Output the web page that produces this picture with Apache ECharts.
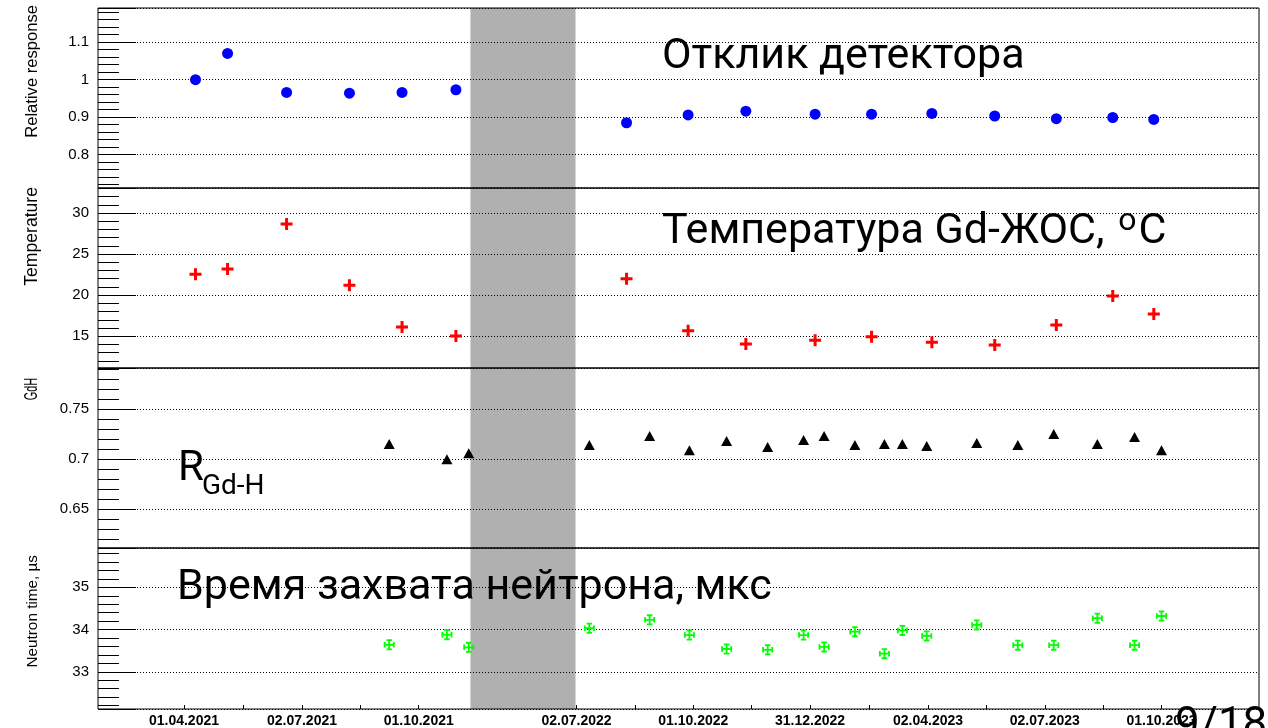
<!DOCTYPE html>
<html><head><meta charset="utf-8">
<script src="https://cdn.jsdelivr.net/npm/echarts@6/dist/echarts.min.js"></script>
<style>html,body{margin:0;padding:0;background:#fff}#c{width:1268px;height:728px}</style>
</head><body><div id="c"></div>
<script>
// ---------------- data ----------------
const tickLabels = ['01.04.2021','02.07.2021','01.10.2021','02.07.2022','01.10.2022','31.12.2022','02.04.2023','02.07.2023','01.10.2023'];

const respDates = ['2021-04-10','2021-05-05','2021-06-20','2021-08-08','2021-09-18','2021-10-30',
  '2022-08-10','2022-09-27','2022-11-11','2023-01-04','2023-02-17','2023-04-05','2023-05-24','2023-07-11','2023-08-24','2023-09-25'];
const response = [1.000,1.070,0.966,0.964,0.966,0.973,0.885,0.906,0.916,0.908,0.908,0.910,0.903,0.896,0.899,0.894];
const temperature = [22.54,23.18,28.66,21.20,16.12,15.02,22.0,15.67,14.05,14.50,14.94,14.26,13.93,16.36,19.89,17.70];

const gdDates = ['2021-09-08','2021-10-23','2021-11-09','2022-07-12','2022-08-28','2022-09-28','2022-10-27','2022-11-28','2022-12-26','2023-01-11',
  '2023-02-04','2023-02-27','2023-03-13','2023-04-01','2023-05-10','2023-06-11','2023-07-09','2023-08-12','2023-09-10','2023-10-01'];
const gdh = [0.715,0.700,0.706,0.714,0.723,0.709,0.718,0.712,0.719,0.723,0.714,0.715,0.715,0.713,0.716,0.714,0.725,0.715,0.722,0.709];
const neutronTime = [33.64,33.88,33.58,34.03,34.23,33.87,33.54,33.52,33.87,33.59,33.95,33.43,33.98,33.85,34.11,33.63,33.63,34.27,33.63,34.32];

const axisNames = ['Relative response','Temperature','GdH','Neutron time, \u00b5s'];
// --------------------------------------

const T0 = Date.UTC(2021,3,1);
const isoDay = s => { const [y,m,d] = s.split('-').map(Number); return Math.round((Date.UTC(y,m-1,d)-T0)/864e5); };
const lblDay = s => { const [d,m,y] = s.split('.').map(Number); return Math.round((Date.UTC(y,m-1,d)-T0)/864e5); };
const labelDays = tickLabels.map(lblDay);
const labelMap = {}; labelDays.forEach((v,i)=>labelMap[v]=tickLabels[i]);
const tickDays = [];
labelDays.forEach((v,i)=>{ tickDays.push(v); if(i<labelDays.length-1 && i!==2) tickDays.push((v+labelDays[i+1])/2); });

const X_MIN = -67, X_MAX = 989;
const BRK = {start: 223, end: 456, gap: 82};

const panels = [
  {top: 8, height: 180, min: 0.711, max: 1.191, split: 5},
  {top: 188, height: 180, min: 11.13, max: 33.04, split: 5},
  {top: 368, height: 180, min: 0.6114, max: 0.7909, split: 4},
  {top: 548, height: 163, min: 32.12, max: 35.93, split: 5}
];

const FONT = 'Liberation Sans';
const BIG = 'Roboto';

const grid = panels.map(p => ({left: 98, right: 9, top: p.top, height: p.height, z: 6,
  show: true, borderColor: '#000', borderWidth: 1, backgroundColor: 'transparent'}));

const xAxis = panels.map((p, i) => ({
  type: 'value', gridIndex: i, min: X_MIN, max: X_MAX, z: 0,
  breaks: [BRK],
  breakArea: {show: true, itemStyle: {color: '#b0b0b0', borderWidth: 0, opacity: 1},
    zigzagAmplitude: 0, zigzagZ: 0, expandOnClick: false},
  axisLine: {show: false, onZero: false},
  splitLine: {show: false},
  axisTick: i === 3 ? {show: true, inside: true, length: 4, customValues: tickDays, lineStyle: {color: '#000'}} : {show: false},
  axisLabel: i === 3 ? {show: true, customValues: labelDays, formatter: v => labelMap[Math.round(v)] || '',
    fontFamily: FONT, fontWeight: 'bold', fontSize: 14, color: '#000', margin: 5} : {show: false}
}));

const yAxis = panels.map((p, i) => ({
  type: 'value', gridIndex: i, min: p.min, max: p.max, splitNumber: p.split, z: 4,
  axisLine: {show: false, onZero: false},
  axisTick: {show: true, inside: true, length: 38, lineStyle: {color: '#000'}},
  minorTick: {show: true, splitNumber: 5, length: 21, lineStyle: {color: '#000'}},
  splitLine: {show: true, lineStyle: {color: '#000', type: [1, 2], width: 1}},
  axisLabel: {showMinLabel: false, showMaxLabel: false, fontFamily: FONT, fontSize: 15, color: '#000', margin: 9}
}));

const plusPath = 'path://M4.5,0H7.5V4.5H12V7.5H7.5V12H4.5V7.5H0V4.5H4.5Z';
const crossPath = 'path://M5,0H7V12H5Z M0,5H12V7H0Z M3,0H9V2H3Z M3,10H9V12H3Z M0,3H2V9H0Z M10,3H12V9H10Z';

const series = [
  {type: 'scatter', xAxisIndex: 0, yAxisIndex: 0, z: 8, symbol: 'circle', symbolSize: 11,
    itemStyle: {color: '#0000ff', opacity: 1}, data: respDates.map((d, i) => [isoDay(d), response[i]])},
  {type: 'scatter', xAxisIndex: 1, yAxisIndex: 1, z: 8, symbol: plusPath, symbolSize: 12,
    itemStyle: {color: '#ff0000', opacity: 1}, data: respDates.map((d, i) => [isoDay(d), temperature[i]])},
  {type: 'scatter', xAxisIndex: 2, yAxisIndex: 2, z: 8, symbol: 'triangle', symbolSize: [11, 10],
    itemStyle: {color: '#000', opacity: 1}, data: gdDates.map((d, i) => [isoDay(d), gdh[i]])},
  {type: 'scatter', xAxisIndex: 3, yAxisIndex: 3, z: 8, symbol: crossPath, symbolSize: 11,
    itemStyle: {color: '#00ff00', opacity: 1}, data: gdDates.map((d, i) => [isoDay(d), neutronTime[i]])}
];

const nameTops = [5, 187, 378, 555];
const nameSizes = [16.6, 17.6, 17.5, 15.3];
const nameScale = [1, 1, 0.62, 1];
const graphic = [];
axisNames.forEach((n, i) => graphic.push({type: 'text', x: 32.5, y: nameTops[i], rotation: Math.PI / 2, scaleX: nameScale[i], z: 10,
  style: {text: n, fontFamily: FONT, fontSize: nameSizes[i], fill: '#000', textAlign: 'right', textVerticalAlign: 'middle'}}));

const BIGSIZE = 43;
const big = (text, x, y, size) => ({type: 'text', x, y, z: 20,
  style: {text, fontFamily: BIG, fontSize: size, fill: '#000', textAlign: 'left', textVerticalAlign: 'middle'}});
const tempTitle = 'Температура Gd-ЖОС, ';
const mctx = document.createElement('canvas').getContext('2d');
mctx.font = BIGSIZE + 'px ' + BIG;
const tw = mctx.measureText(tempTitle).width;
mctx.font = '32px ' + BIG;
const ow = mctx.measureText('o').width;

graphic.push(big('Отклик детектора', 662, 57, BIGSIZE));
graphic.push(big(tempTitle, 662, 232, BIGSIZE));
graphic.push(big('o', 665 + tw, 222, 32));
graphic.push(big('C', 667 + tw + ow, 232, BIGSIZE));
graphic.push(big('Время захвата нейтрона, мкс', 177, 588, BIGSIZE));
graphic.push(big('R', 178, 469, 42));
graphic.push(big('Gd-H', 202, 487, 28));
graphic.push(big('9/18', 1175, 727, 44));

const chart = echarts.init(document.getElementById('c'), null, {renderer: 'canvas'});
chart.setOption({animation: false, backgroundColor: '#fff', grid, xAxis, yAxis, series, graphic});
</script>
</body></html>
